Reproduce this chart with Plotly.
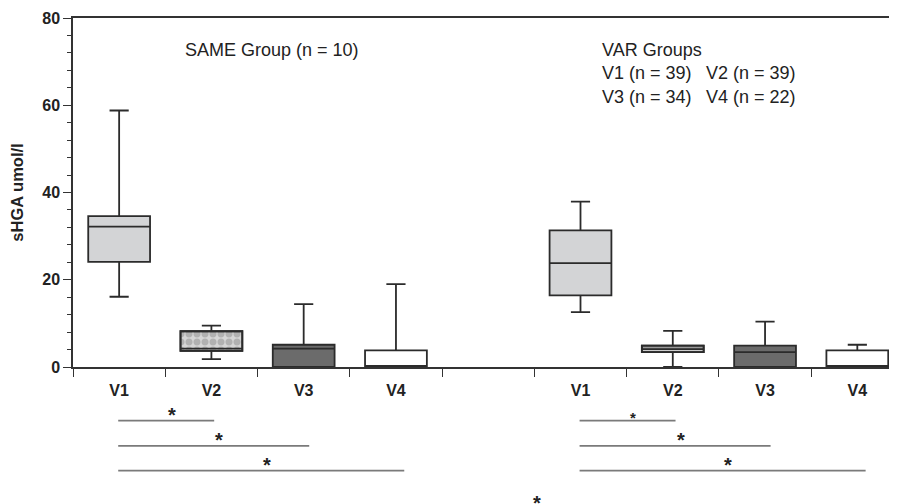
import plotly.graph_objects as go

# ---- data ----
slot_labels = ["V1", "V2", "V3", "V4", "", "V1", "V2", "V3", "V4"]
box_slots = [0, 1, 2, 3, 5, 6, 7, 8]
q1 = [24.1, 3.7, 0.0, 0.0, 16.4, 3.4, 0.0, 0.0]
median = [32.2, 4.2, 4.2, 0.0, 23.8, 4.1, 3.4, 0.0]
q3 = [34.6, 8.2, 5.1, 3.8, 31.3, 4.9, 4.9, 3.8]
lower = [16.1, 1.8, 0.0, 0.0, 12.6, 0.0, 0.0, 0.0]
upper = [58.8, 9.5, 14.4, 19.0, 37.9, 8.3, 10.4, 5.1]
fills = ["#d3d4d6", None, "#6b6b6b", "#ffffff", "#d3d4d6", None, "#6b6b6b", "#ffffff"]
patterns = [None, ".", None, None, None, "-", None, None]

y_ticks = [0, 20, 40, 60, 80]
same_text = "SAME Group (n = 10)"
var_title = "VAR Groups"
var_counts = [["V1 (n = 39)", "V2 (n = 39)"], ["V3 (n = 34)", "V4 (n = 22)"]]
# significance comparisons: (from slot, to slot, star size)
comparisons = [(0, 1, 20), (0, 2, 20), (0, 3, 20), (5, 6, 15), (5, 7, 20), (5, 8, 20)]

FONT = "Liberation Sans, Arial, sans-serif"
LINE = "#2b2b2b"
BOXW = 0.67

fig = go.Figure()

for i, s in enumerate(box_slots):
    if patterns[i] is not None:
        if patterns[i] == ".":
            pat = dict(shape=".", fgcolor="#8c8c8c", bgcolor="#d6d6d6", size=8, solidity=0.6)
        else:
            pat = dict(shape="-", fgcolor="#ffffff", bgcolor="#9a9a9a", size=7, solidity=0.3)
        fig.add_trace(go.Bar(
            x=[s], y=[q3[i] - q1[i]], base=[q1[i]], width=BOXW,
            marker=dict(color="#b0b0b0", pattern=pat, line=dict(color=LINE, width=1.8)),
            hoverinfo="skip", showlegend=False))
    fig.add_trace(go.Box(
        x=[s], q1=[q1[i]], median=[median[i]], q3=[q3[i]],
        lowerfence=[lower[i]], upperfence=[upper[i]],
        width=BOXW, whiskerwidth=0.31, boxpoints=False,
        fillcolor=fills[i] if fills[i] else "rgba(0,0,0,0)",
        line=dict(color=LINE, width=1.8),
        hoverinfo="skip", showlegend=False))

annotations = []
annotations.append(dict(x=0.69, y=72.7, xref="x", yref="y", text=same_text, showarrow=False,
                        xanchor="left", yanchor="middle", font=dict(family=FONT, size=18, color="#222")))
annotations.append(dict(x=5.21, y=72.7, xref="x", yref="y", text=var_title, showarrow=False,
                        xanchor="left", yanchor="middle", font=dict(family=FONT, size=18, color="#222")))
for r, row in enumerate(var_counts):
    for c, t in enumerate(row):
        annotations.append(dict(x=5.21 + c * 1.13, y=67.3 - r * 5.45, xref="x", yref="y", text=t,
                                showarrow=False, xanchor="left", yanchor="middle",
                                font=dict(family=FONT, size=18, color="#222")))

shapes = []
line_y = [-0.1537, -0.226, -0.297]
for k, (a, b, sz) in enumerate(comparisons):
    row = k % 3
    x0 = a - 0.01
    x1 = a + (b - a) * 1.03
    shapes.append(dict(type="line", xref="x", yref="paper", x0=x0, x1=x1,
                       y0=line_y[row], y1=line_y[row], line=dict(color="#7a7a7a", width=1.6)))
    annotations.append(dict(x=(x0 + x1) / 2 + 0.06, y=line_y[row] - 0.02, xref="x", yref="paper",
                            text="*", showarrow=False, xanchor="center", yanchor="bottom",
                            font=dict(family=FONT, size=sz, color="#222", weight="bold")))
annotations.append(dict(x=4.53, y=-0.39, xref="x", yref="paper", text="*", showarrow=False,
                        xanchor="center", yanchor="middle",
                        font=dict(family=FONT, size=20, color="#222", weight="bold")))

fig.update_layout(
    width=889, height=496,
    margin=dict(l=65, r=0, t=9.5, b=137),
    paper_bgcolor="white", plot_bgcolor="white",
    boxmode="overlay", barmode="overlay",
    showlegend=False,
    annotations=annotations, shapes=shapes,
    xaxis=dict(range=[-0.5, 8.43], tickmode="array", tickvals=list(range(len(slot_labels))),
               ticktext=slot_labels, ticks="outside", ticklen=8, tickcolor="rgba(0,0,0,0)",
               tickfont=dict(family=FONT, size=16, color="#222", weight="bold"),
               showline=True, linecolor="#333", linewidth=1.5, mirror=True,
               showgrid=False, zeroline=False, automargin=False,
               minor=dict(tick0=-0.5, dtick=1, ticks="outside", ticklen=8, tickcolor="#333", tickwidth=1.3)),
    yaxis=dict(range=[0, 80], tickmode="array", tickvals=y_ticks,
               ticks="outside", ticklen=8, tickcolor="#333", tickwidth=1.3,
               tickfont=dict(family=FONT, size=16, color="#222", weight="bold"),
               showline=True, linecolor="#333", linewidth=1.5,
               showgrid=False, zeroline=False, automargin=False,
               minor=dict(dtick=4, ticks="outside", ticklen=4, tickcolor="#333", tickwidth=1.2),
               title=dict(text="sHGA umol/l", font=dict(family=FONT, size=16.5, color="#222", weight="bold"),
                          standoff=14)),
)

fig.write_html("out.html")
